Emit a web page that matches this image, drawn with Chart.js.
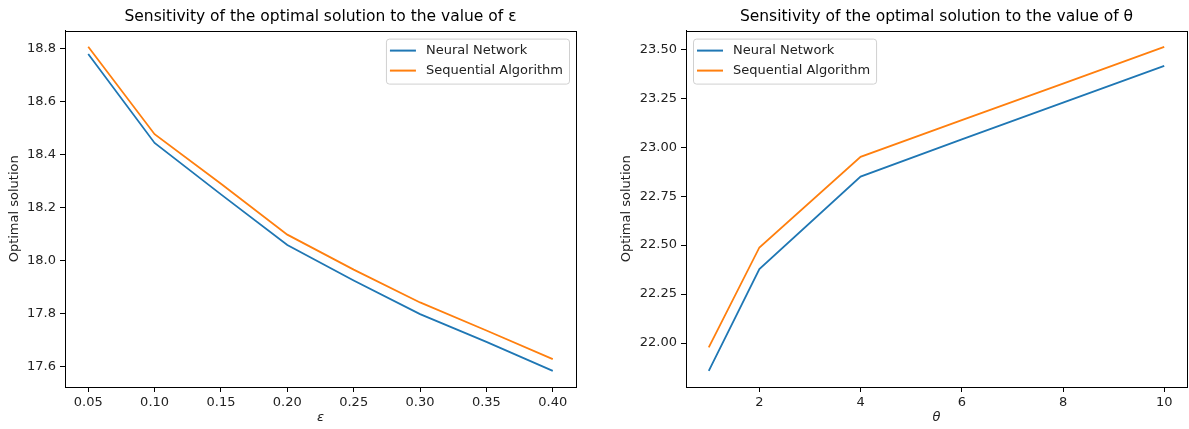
<!DOCTYPE html>
<html>
<head>
<meta charset="utf-8">
<script src="https://cdn.jsdelivr.net/npm/chart.js@4/dist/chart.umd.min.js"></script>
<style>
  html, body { margin: 0; padding: 0; background: #fff; }
  .panel { position: absolute; top: 0; height: 429px; }
  #leftPanel { left: 0; width: 594px; }
  #rightPanel { left: 594px; width: 595px; }
</style>
</head>
<body>
<div class="panel" id="leftPanel"><canvas id="epsChart"></canvas></div>
<div class="panel" id="rightPanel"><canvas id="thetaChart"></canvas></div>
<script>
// left panel: sensitivity to epsilon
const epsValues = [0.05, 0.10, 0.15, 0.20, 0.25, 0.30, 0.35, 0.40];
const epsNeural = [18.780, 18.444, 18.250, 18.059, 17.925, 17.798, 17.693, 17.584];
const epsSequential = [18.807, 18.477, 18.290, 18.098, 17.966, 17.842, 17.736, 17.628];
const epsXTicks = [0.05, 0.10, 0.15, 0.20, 0.25, 0.30, 0.35, 0.40];
const epsYTicks = [17.6, 17.8, 18.0, 18.2, 18.4, 18.6, 18.8];

// right panel: sensitivity to theta
const thetaValues = [1, 2, 4, 6, 8, 10];
const thetaNeural = [21.858, 22.378, 22.850, 23.040, 23.228, 23.416];
const thetaSequential = [21.978, 22.488, 22.951, 23.138, 23.325, 23.513];
const thetaXTicks = [2, 4, 6, 8, 10];
const thetaYTicks = [22.00, 22.25, 22.50, 22.75, 23.00, 23.25, 23.50];

const seriesNames = ['Neural Network', 'Sequential Algorithm'];
const seriesColors = ['#1f77b4', '#ff7f0e'];

const FONT = 'DejaVu Sans';
const TEXT = '#222';

// matplotlib style 5% margins
function paddedRange(arrays) {
    const all = [].concat(...arrays);
    const lo = Math.min(...all), hi = Math.max(...all);
    const pad = (hi - lo) * 0.05;
    return { min: lo - pad, max: hi + pad };
}

function toPoints(xs, ys) {
    return xs.map((x, i) => ({ x: x, y: ys[i] }));
}

// frame around the plot area + legend drawn inside it
const innerLegend = {
    id: 'innerLegend',
    afterDraw(chart, args, opts) {
        const ctx = chart.ctx;
        const area = chart.chartArea;
        ctx.save();
        ctx.strokeStyle = '#000';
        ctx.lineWidth = 1;
        ctx.strokeRect(Math.round(area.left) + 0.5, Math.round(area.top) + 0.5,
            Math.round(area.right - area.left), Math.round(area.bottom - area.top));

        ctx.font = '13px "' + FONT + '"';
        const labels = chart.data.datasets.map(d => d.label);
        const textW = Math.max(...labels.map(l => ctx.measureText(l).width));
        const boxW = 4 + 26 + 10 + textW + 6;
        const boxH = 45;
        const top = area.top + 8;
        const left = opts.align === 'right' ? area.right - 7 - boxW : area.left + 7;

        ctx.beginPath();
        ctx.roundRect(left + 0.5, top + 0.5, boxW, boxH, 3);
        ctx.fillStyle = 'rgba(255,255,255,0.8)';
        ctx.fill();
        ctx.strokeStyle = '#d0d0d0';
        ctx.stroke();

        chart.data.datasets.forEach((d, i) => {
            const y = top + 12 + i * 20;
            ctx.beginPath();
            ctx.strokeStyle = d.borderColor;
            ctx.lineWidth = 2;
            ctx.moveTo(left + 4, y);
            ctx.lineTo(left + 30, y);
            ctx.stroke();
            ctx.fillStyle = TEXT;
            ctx.textBaseline = 'middle';
            ctx.textAlign = 'left';
            ctx.fillText(d.label, left + 40, y);
        });
        ctx.restore();
    }
};

function makeChart(canvasId, cfg) {
    const xr = paddedRange([cfg.xs]);
    const yr = paddedRange([cfg.neural, cfg.sequential]);
    const ctx = document.getElementById(canvasId).getContext('2d');
    return new Chart(ctx, {
        type: 'line',
        data: {
            datasets: [
                { label: seriesNames[0], data: toPoints(cfg.xs, cfg.neural), borderColor: seriesColors[0] },
                { label: seriesNames[1], data: toPoints(cfg.xs, cfg.sequential), borderColor: seriesColors[1] }
            ]
        },
        options: {
            responsive: true,
            maintainAspectRatio: false,
            animation: false,
            layout: { padding: cfg.padding },
            elements: {
                line: { borderWidth: 1.8, tension: 0, fill: false },
                point: { radius: 0, hoverRadius: 0 }
            },
            plugins: {
                legend: { display: false },
                tooltip: { enabled: false },
                title: {
                    display: true,
                    fullSize: false,   // centre over the plot area like matplotlib
                    text: cfg.title,
                    color: '#000',
                    font: { family: FONT, size: 15.5, weight: 'normal' },
                    padding: { top: 8, bottom: 4 }
                },
                innerLegend: { align: cfg.legendAlign }
            },
            scales: {
                x: {
                    type: 'linear',
                    min: xr.min,
                    max: xr.max,
                    afterBuildTicks: s => { s.ticks = cfg.xTicks.map(v => ({ value: v })); },
                    afterFit: s => { s.height = 42; },
                    grid: { drawOnChartArea: false, drawTicks: true, tickLength: 5, tickColor: '#000' },
                    border: { color: '#000' },
                    ticks: {
                        color: TEXT, padding: 3, maxRotation: 0, autoSkip: false,
                        font: { family: FONT, size: 13 },
                        callback: v => v.toFixed(cfg.xDigits)
                    },
                    title: {
                        display: true, text: cfg.xTitle, color: TEXT,
                        font: { family: FONT, size: 13, style: 'italic' },
                        padding: { top: 0, bottom: 4 }
                    }
                },
                y: {
                    min: yr.min,
                    max: yr.max,
                    afterBuildTicks: s => { s.ticks = cfg.yTicks.map(v => ({ value: v })); },
                    afterFit: s => { s.width = cfg.yWidth; },
                    grid: { drawOnChartArea: false, drawTicks: true, tickLength: 5, tickColor: '#000' },
                    border: { color: '#000' },
                    ticks: {
                        color: TEXT, padding: 4, autoSkip: false,
                        font: { family: FONT, size: 13 },
                        callback: v => v.toFixed(cfg.yDigits)
                    },
                    title: {
                        display: true, text: 'Optimal solution', color: TEXT,
                        font: { family: FONT, size: 13 },
                        padding: { top: cfg.yTitlePad, bottom: 0 }
                    }
                }
            }
        },
        plugins: [innerLegend]
    });
}

makeChart('epsChart', {
    title: 'Sensitivity of the optimal solution to the value of \u03b5',
    xs: epsValues, neural: epsNeural, sequential: epsSequential,
    xTicks: epsXTicks, yTicks: epsYTicks,
    xDigits: 2, yDigits: 1, xTitle: '\u03b5',
    padding: { left: 0, right: 18, top: 0, bottom: 0 },
    yWidth: 65, yTitlePad: 7, legendAlign: 'right'
});

makeChart('thetaChart', {
    title: 'Sensitivity of the optimal solution to the value of \u03b8',
    xs: thetaValues, neural: thetaNeural, sequential: thetaSequential,
    xTicks: thetaXTicks, yTicks: thetaYTicks,
    xDigits: 0, yDigits: 2, xTitle: '\u03b8',
    padding: { left: 20, right: 2, top: 0, bottom: 0 },
    yWidth: 72, yTitlePad: 5, legendAlign: 'left'
});
</script>
</body>
</html>
